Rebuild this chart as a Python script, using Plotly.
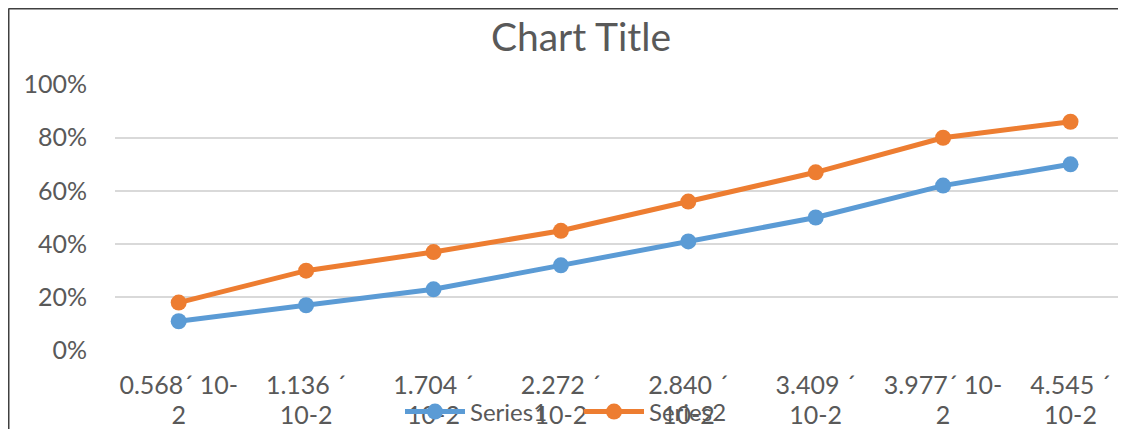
import plotly.graph_objects as go

tick_line1 = ["0.568´ 10-", "1.136 ´", "1.704 ´", "2.272 ´",
              "2.840 ´", "3.409 ´", "3.977´ 10-", "4.545 ´"]
tick_line2 = ["2", "10-2", "10-2", "10-2", "10-2", "10-2", "2", "10-2"]
series1 = [0.11, 0.17, 0.23, 0.32, 0.41, 0.50, 0.62, 0.70]
series2 = [0.18, 0.30, 0.37, 0.45, 0.56, 0.67, 0.80, 0.86]
y_ticks = [0, 0.2, 0.4, 0.6, 0.8, 1.0]

OFF = 8  # page body margin
W, H = 1110, 421
L, R, T, B = 115 - OFF, 0, 84 - OFF, H - (351 - OFF)
pw, ph = W - L - R, H - T - B
def px_x(p): return (p - OFF - L) / pw   # p in window pixels
def px_y(p): return (H - B - (p - OFF)) / ph

FONT = "Lato"
GRAY = "#595959"
step = 127.4
xr = [-0.5, -0.5 + pw / step]

fig = go.Figure()
xs = list(range(len(tick_line1)))
fig.add_trace(go.Scatter(x=xs, y=series1, name="Series1", mode="lines+markers",
                         line=dict(color="#5B9BD5", width=5),
                         marker=dict(size=16, color="#5B9BD5")))
fig.add_trace(go.Scatter(x=xs, y=series2, name="Series2", mode="lines+markers",
                         line=dict(color="#ED7D31", width=5),
                         marker=dict(size=16, color="#ED7D31")))
# carrier for the second tick-label row
fig.add_trace(go.Scatter(x=xs, y=[None] * len(xs), xaxis="x2", yaxis="y",
                         showlegend=False, hoverinfo="skip", mode="lines"))

axis_common = dict(tickmode="array", tickvals=xs, range=xr, showgrid=False, zeroline=False,
                   showline=False, ticks="", automargin=False, fixedrange=True,
                   tickfont=dict(family=FONT, size=25, color=GRAY))

fig.update_layout(
    width=W, height=H,
    margin=dict(l=L, r=R, t=T, b=B, autoexpand=False),
    paper_bgcolor="white", plot_bgcolor="white",
    font=dict(family=FONT, size=25, color=GRAY),
    title=dict(text="Chart Title", x=(581 - OFF) / W, xref="container", xanchor="center",
               y=1 - (37 - OFF) / H, yref="container", yanchor="middle",
               font=dict(family=FONT, size=39, color=GRAY)),
    showlegend=True,
    legend=dict(orientation="h", x=px_x(400), xanchor="left", y=px_y(412), yanchor="middle",
                bgcolor="rgba(0,0,0,0)", font=dict(family=FONT, size=24, color=GRAY),
                itemwidth=60, entrywidth=104),
    xaxis=dict(ticktext=tick_line1, ticklabelstandoff=17, **axis_common),
    xaxis2=dict(ticktext=tick_line2, ticklabelstandoff=47, overlaying="x", anchor="y",
                side="bottom", matches="x", **axis_common),
    yaxis=dict(range=[-0.002, 1.002], tickvals=y_ticks, tickformat=".0%",
               showgrid=True, gridcolor="#d9d9d9", gridwidth=1.5, zeroline=False,
               showline=False, ticks="", ticklabelstandoff=27, automargin=False,
               tickfont=dict(family=FONT, size=25, color=GRAY)),
    shapes=[
        dict(type="line", xref="paper", yref="paper", x0=px_x(8.5), x1=px_x(8.5),
             y0=px_y(600), y1=px_y(8.5), line=dict(color="#404040", width=2), layer="above"),
        dict(type="line", xref="paper", yref="paper", x0=px_x(8.5), x1=px_x(1300),
             y0=px_y(8.5), y1=px_y(8.5), line=dict(color="#404040", width=2), layer="above"),
    ],
)

fig.write_html("out.html")
